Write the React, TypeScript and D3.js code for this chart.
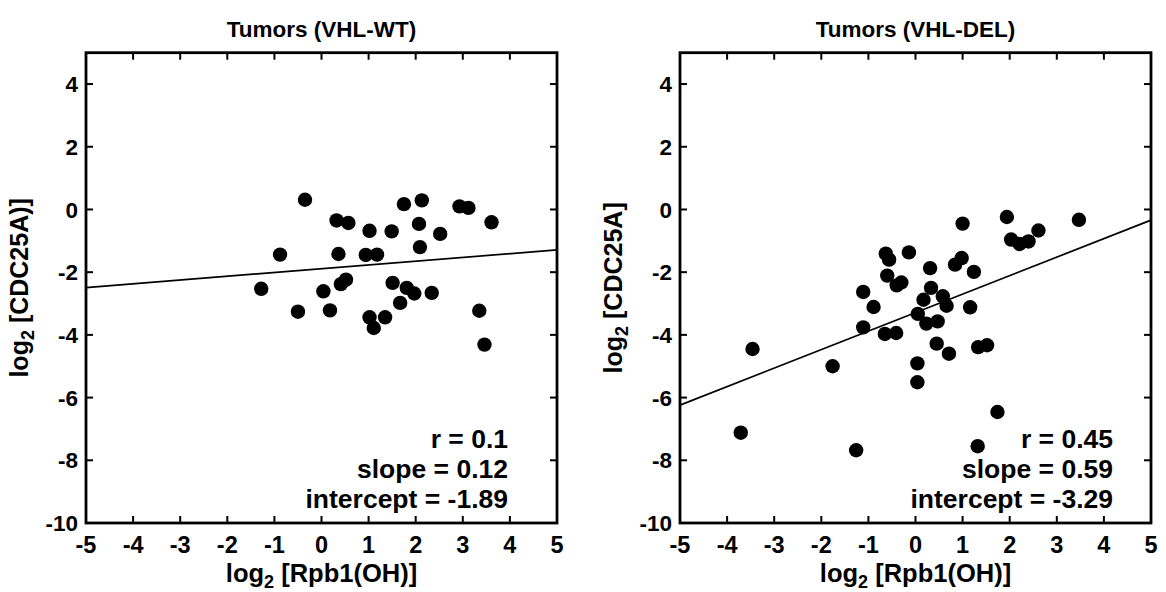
import React from "react";
import * as d3 from "d3";

// ---- Data ----
const wtX = [-1.28, -0.88, -0.5, -0.35, 0.04, 0.18, 0.32, 0.57, 0.36, 0.41, 0.52, 0.94, 1.02, 1.18, 1.02, 1.11, 1.35, 1.49, 1.51, 1.67, 1.75, 1.81, 1.97, 2.07, 2.09, 2.13, 2.34, 2.52, 2.93, 3.12, 3.35, 3.46, 3.61];
const wtY = [-2.53, -1.44, -3.26, 0.31, -2.61, -3.22, -0.35, -0.43, -1.42, -2.38, -2.24, -1.45, -0.68, -1.44, -3.44, -3.78, -3.44, -0.7, -2.34, -2.98, 0.17, -2.5, -2.68, -0.46, -1.2, 0.29, -2.66, -0.78, 0.1, 0.05, -3.23, -4.31, -0.41];

const delX = [-3.71, -3.46, -1.76, -1.26, -1.11, -1.11, -0.89, -0.63, -0.56, -0.6, -0.4, -0.3, -0.14, -0.65, -0.41, 0.05, 0.17, 0.04, 0.04, 0.31, 0.33, 0.23, 0.58, 0.66, 0.47, 0.45, 0.71, 1.0, 0.84, 0.98, 1.24, 1.16, 1.33, 1.52, 1.74, 1.32, 1.94, 2.03, 2.21, 2.4, 2.61, 3.47];
const delY = [-7.12, -4.45, -5.0, -7.68, -2.63, -3.76, -3.11, -1.41, -1.6, -2.11, -2.42, -2.33, -1.37, -3.97, -3.94, -3.33, -2.88, -4.91, -5.51, -1.87, -2.5, -3.64, -2.77, -3.07, -3.57, -4.28, -4.6, -0.45, -1.76, -1.55, -1.99, -3.12, -4.39, -4.33, -6.46, -7.55, -0.24, -0.96, -1.1, -1.02, -0.67, -0.33];

const titles = ["Tumors (VHL-WT)", "Tumors (VHL-DEL)"];
const yLabels = ["[CDC25A)]", "[CDC25A]"];
const xLabel = "[Rpb1(OH)]";
const rVals = ["0.1", "0.45"];
const slopes = [0.12, 0.59];
const intercepts = [-1.89, -3.29];

const xTicks = [-5, -4, -3, -2, -1, 0, 1, 2, 3, 4, 5];
const yTicks = [4, 2, 0, -2, -4, -6, -8, -10];

const FONT = "'Liberation Sans', Arial, Helvetica, sans-serif";

type PanelProps = {
  left: number;
  xs: number[];
  ys: number[];
  title: string;
  yLabel: string;
  r: string;
  slope: number;
  intercept: number;
  statsRight: number;
};

const TOP = 52.7;
const BOTTOM = 523;
const WIDTH = 471;

function Panel({ left, xs, ys, title, yLabel, r, slope, intercept, statsRight }: PanelProps) {
  const x = d3.scaleLinear().domain([-5, 5]).range([left, left + WIDTH]);
  const y = d3.scaleLinear().domain([-10, 5]).range([BOTTOM, TOP]);
  const line = d3.line<number>().x((d) => x(d)).y((d) => y(slope * d + intercept));
  const tick = 7;
  const cx = left + WIDTH / 2;
  const cy = (TOP + BOTTOM) / 2;
  return (
    <g fontFamily={FONT} fontWeight="bold" fill="#000">
      <text x={cx} y={37} textAnchor="middle" fontSize={22.5}>{title}</text>
      {xs.map((v, i) => (
        <circle key={i} cx={x(v)} cy={y(ys[i])} r={7.2} fill="#000" />
      ))}
      <path d={line([-5, 5]) || ""} stroke="#000" strokeWidth={1.7} fill="none" />
      {xTicks.slice(1, -1).map((t) => (
        <g key={"xt" + t}>
          <line x1={x(t)} x2={x(t)} y1={BOTTOM} y2={BOTTOM - tick} stroke="#000" strokeWidth={2} />
          <line x1={x(t)} x2={x(t)} y1={TOP} y2={TOP + tick} stroke="#000" strokeWidth={2} />
        </g>
      ))}
      {yTicks.slice(0, -1).map((t) => (
        <g key={"yt" + t}>
          <line x1={left} x2={left + tick} y1={y(t)} y2={y(t)} stroke="#000" strokeWidth={2} />
          <line x1={left + WIDTH} x2={left + WIDTH - tick} y1={y(t)} y2={y(t)} stroke="#000" strokeWidth={2} />
        </g>
      ))}
      <rect x={left} y={TOP} width={WIDTH} height={BOTTOM - TOP} fill="none" stroke="#000" strokeWidth={2.8} />
      {xTicks.map((t) => (
        <text key={"xl" + t} x={x(t)} y={553} textAnchor="middle" fontSize={23.5}>{t}</text>
      ))}
      {yTicks.map((t) => (
        <text key={"yl" + t} x={left - 8} y={y(t)} dy="0.36em" textAnchor="end" fontSize={22.5}>{t}</text>
      ))}
      <text x={cx} y={582} textAnchor="middle" fontSize={25.5}>
        log<tspan fontSize={18} dy={6}>2</tspan><tspan dy={-6}> {xLabel}</tspan>
      </text>
      <text transform={`translate(${left - 58},${cy}) rotate(-90)`} textAnchor="middle" fontSize={25}>
        log<tspan fontSize={18} dy={6}>2</tspan><tspan dy={-6}> {yLabel}</tspan>
      </text>
      <text x={statsRight} y={448} textAnchor="end" fontSize={26.5}>r = {r}</text>
      <text x={statsRight} y={478} textAnchor="end" fontSize={26.5}>slope = {slope.toFixed(2)}</text>
      <text x={statsRight} y={508} textAnchor="end" fontSize={26.5}>intercept = {intercept.toFixed(2)}</text>
    </g>
  );
}

export default function App() {
  return (
    <svg width={1166} height={592} style={{ position: "absolute", left: 0, top: 0, background: "#fff" }}>
      <rect width={1166} height={592} fill="#fff" />
      <Panel left={86} xs={wtX} ys={wtY} title={titles[0]} yLabel={yLabels[0]} r={rVals[0]} slope={slopes[0]} intercept={intercepts[0]} statsRight={508} />
      <Panel left={680} xs={delX} ys={delY} title={titles[1]} yLabel={yLabels[1]} r={rVals[1]} slope={slopes[1]} intercept={intercepts[1]} statsRight={1113} />
    </svg>
  );
}
